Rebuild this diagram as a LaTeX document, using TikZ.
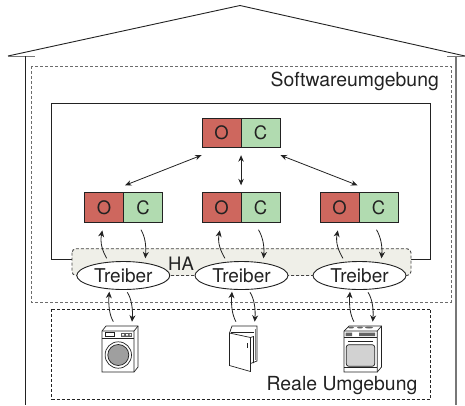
\documentclass[tikz,border=0pt]{standalone}
\usepackage{fontspec}
\setmainfont{TeX Gyre Heros}
\usetikzlibrary{arrows.meta,calc,shapes.geometric}
\definecolor{ink}{HTML}{222222}
\definecolor{ored}{HTML}{CE675E}
\definecolor{cgreen}{HTML}{B1DBB0}
\definecolor{hafill}{HTML}{EFEFE8}
\definecolor{wallgray}{HTML}{777777}
\tikzset{
  ocbox/.style={draw=ink,line width=0.9pt,minimum width=39pt,minimum height=29.5pt,inner sep=0pt,font=\fontsize{18.5}{18.5}\selectfont,text=ink,anchor=center},
  obox/.style={ocbox,fill=ored},
  cbox/.style={ocbox,fill=cgreen},
  driver/.style={draw=ink,fill=white,ellipse,line width=0.9pt,minimum width=93pt,minimum height=28pt,inner sep=0pt,font=\fontsize{19}{19}\selectfont,text=ink},
  lab/.style={font=\fontsize{19.4}{19.4}\selectfont,text=ink,inner sep=0pt},
  darr/.style={ink,line width=0.8pt,{Stealth[length=6.5pt,width=5.5pt]}-{Stealth[length=6.5pt,width=5.5pt]}},
  carr/.style={ink,line width=0.8pt,-{Stealth[length=6.5pt,width=6pt]}},
  envbox/.style={draw=#1,densely dashed,line width=0.8pt},
  app/.style={draw=ink,line width=0.7pt},
  wall/.style={ink,line width=0.9pt}
}
\begin{document}
\begin{tikzpicture}[x=1pt,y=-1pt]
\useasboundingbox (0,0) rectangle (465,405);
% house
\draw[wall] (8,56) -- (240,5.5) -- (465,56);
\draw[wallgray,line width=1pt] (8,56) -- (35,56) (447,56) -- (465,56);
\draw[wall] (25,56) -- (25,405);
\draw[wallgray,line width=2pt] (456,56) -- (456,405);
% environments
\draw[envbox=gray!85!black] (31,66) rectangle (451,302);
\draw[envbox=ink] (51.5,309) rectangle (430.5,399);
\node[lab,anchor=east] (sw) at (439,81) {Softwareumgebung};
\node[lab,anchor=east] (re) at (417.5,386) {Reale Umgebung};
% OC frame and HA band
\draw[ink,line width=0.9pt] (72,259) -- (51.5,259) -- (51.5,103) -- (430.5,103) -- (430.5,259) -- (411,259);
\draw[draw=ink!85,fill=hafill,densely dashed,line width=0.9pt,rounded corners=4pt] (72,248.7) rectangle (411,275.5);
\node[font=\fontsize{18.5}{18.5}\selectfont,text=ink,inner sep=0pt] (ha) at (181,263.5) {HA};
% OC nodes
\node[obox] (o0) at (221.5,133) {O}; \node[cbox] (c0) at (260.5,133) {C};
\node[obox] (o1) at (104,207.5) {O}; \node[cbox] (c1) at (143,207.5) {C};
\node[obox] (o2) at (221.5,207.5) {O}; \node[cbox] (c2) at (260.5,207.5) {C};
\node[obox] (o3) at (339.5,207.5) {O}; \node[cbox] (c3) at (378.5,207.5) {C};
% drivers
\node[driver] (t1) at (123.3,275.5) {Treiber};
\node[driver] (t2) at (241.5,275.5) {Treiber};
\node[driver] (t3) at (359.5,275.5) {Treiber};
% hierarchy arrows
\draw[darr] ([shift={(0,7)}]o0.south west) -- ([shift={(21,-7)}]o1.north);
\draw[darr] ([shift={(0.5,7)}]c0.south west) -- ([shift={(0.5,-7)}]c2.north west);
\draw[darr] ([shift={(0,7)}]c0.south east) -- ([shift={(-1,-7)}]c3.north west);
% appliances
\coordinate (w) at (102,326);
\begin{scope}[shift={(w)}]
  \draw[app,fill=white] (0,5) -- (4,0) -- (36,0) -- (36,41) -- (32,46) -- (0,46) -- cycle;
  \draw[app] (0,5) -- (32,5) -- (32,46) (32,5) -- (36,0);
  \draw[app,line width=0.5pt] (0,12) -- (32,12);
  \draw[app,line width=0.5pt] (3,6.5) rectangle (12,10.5);
  \fill[ink!75] (19,7) rectangle (30,11);
  \fill[white] (20,8) rectangle (22,9.5) (24,8) rectangle (26,9.5) (27.5,8) rectangle (29,9.5);
  \draw[app] (16.3,29) circle (13.2);
  \draw[app,fill=gray!75] (16.3,29) circle (10.5);
\end{scope}
\coordinate (f) at (229.5,326);
\begin{scope}[shift={(f)}]
  \draw[app,fill=white] (0,7) -- (2.5,0) -- (27.5,0) -- (27.5,35) -- (21,37.5) -- (21,45.5) -- (0,39.5) -- cycle;
  \draw[app] (0,7) -- (21,11.5) -- (21,45.5);
  \draw[app] (21,11.5) -- (24,10.5) -- (24,37);
  \draw[app,line width=0.5pt] (1.5,6.5) -- (24,6.5);
  \draw[app,line width=0.9pt] (17.5,17) -- (17.5,22);
  \draw[app,line width=1pt,gray] (25.7,3) -- (25.7,34);
\end{scope}
\coordinate (s) at (344,326);
\begin{scope}[shift={(s)}]
  \draw[app,fill=white] (0,5) -- (5,0) -- (37.5,0) -- (37.5,41) -- (33.3,46) -- (0,46) -- cycle;
  \draw[app] (0,5) -- (33.3,5) -- (33.3,46) (33.3,5) -- (37.5,0);
  \fill[ink!70] (7,1.5) ellipse (3 and 1) (16,1.5) ellipse (3 and 1) (25,1.5) ellipse (4 and 1);
  \draw[app,line width=0.5pt] (0,11) -- (33.3,11);
  \fill[ink!70] (1.5,6.5) rectangle (8,10) (15,6.5) rectangle (31,10);
  \draw[app,line width=0.6pt] (4,15.3) -- (29,15.3);
  \draw[app,fill=gray!35,rounded corners=2.5pt] (2.3,18.7) rectangle (30.7,40.3);
  \draw[app,line width=0.5pt] (0,41.7) -- (33.3,41.7);
\end{scope}
% named ends on the appliances
\coordinate (a1) at (123.3,321.7);
\coordinate (a2) at (241.5,321.7);
\coordinate (a3) at (359.5,321.7);
% driver arrows
\foreach \i/\d in {1/0,2/4.5,3/4.5}{
  \draw[carr] ([shift={(-16.6,-17.2)}]t\i.center) .. controls +(-4,-7) and +(-2.5,13) .. ([shift={(-1.7,7.7)}]o\i.south);
  \draw[carr] ([shift={(-2,7)}]c\i.south) .. controls +(4,7) and +(1,-13) .. ([shift={(22,-17.2)}]t\i.center);
  \draw[carr] ([xshift=-10pt+\d pt]a\i) .. controls +(-4,-7) and +(-1,13) .. ([shift={(-14+\d,16.2)}]t\i.center);
  \draw[carr] ([shift={(4+\d,16.8)}]t\i.center) .. controls +(4,6) and +(1,-13) .. ([xshift=8.7pt+\d pt]a\i);
}
\end{tikzpicture}
\end{document}
